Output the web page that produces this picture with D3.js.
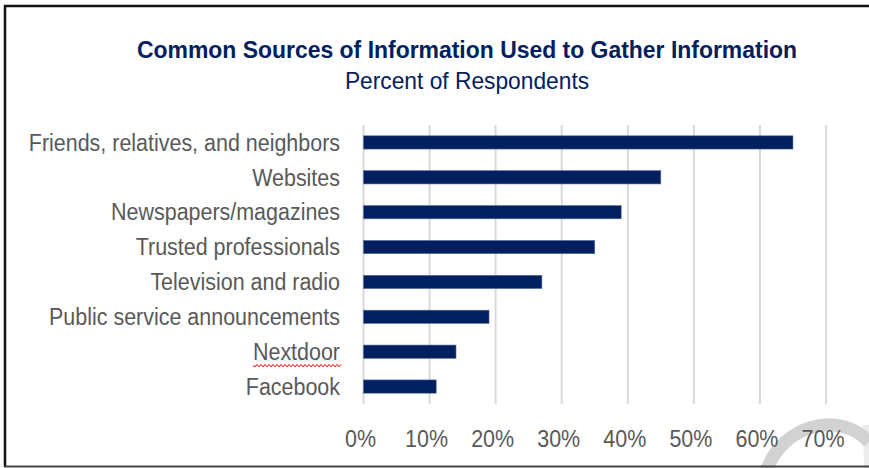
<!DOCTYPE html>
<html lang="en">
<head>
<meta charset="utf-8">
<title>Common Sources of Information</title>
<script src="https://cdn.jsdelivr.net/npm/d3@7"></script>
<style>
  body { margin: 0; background: #fff; }
  svg { display: block; }
  text { font-family: "Liberation Sans Narrow", "Arial Narrow", "Liberation Sans", sans-serif; }
  .label { fill: #595959; font-size: 23px; }
  .grid line { stroke: #d9d9d9; stroke-width: 2px; }
</style>
</head>
<body>
<div id="chart"></div>
<script>
var categories = ["Friends, relatives, and neighbors", "Websites", "Newspapers/magazines",
                  "Trusted professionals", "Television and radio", "Public service announcements",
                  "Nextdoor", "Facebook"];
var values = [65, 45, 39, 35, 27, 19, 14, 11];
var ticks = [0, 10, 20, 30, 40, 50, 60, 70];

var width = 869, height = 468;
var navy = "#002060";
var cond = 0.933;   // squeeze text horizontally, no narrow font installed

var svg = d3.select("#chart").append("svg")
    .attr("width", width)
    .attr("height", height);

var x = d3.scaleLinear().domain([0, 70]).range([363.5, 826]);
var y = d3.scaleBand().domain(categories).range([125, 404])
    .paddingInner(0.62).paddingOuter(0.31);

// squeezed text helper: place at (px, py), scale x about px
function squeeze(sel, px, py, k) {
  sel.attr("transform", "translate(" + px + "," + py + ") scale(" + k + ",1)");
}

// watermark arc behind everything
svg.append("path")
    .attr("d", "M866,425 L868,472")
    .attr("fill", "none")
    .attr("stroke", "#ececec")
    .attr("stroke-width", 7);
svg.append("path")
    .attr("d", "M766,472 C782,424 840,410 869,442")
    .attr("fill", "none")
    .attr("stroke", "#d2d2d2")
    .attr("stroke-width", 13);

// gridlines
svg.append("g").attr("class", "grid")
  .selectAll("line").data(ticks)
  .enter().append("line")
    .attr("x1", function(d) { return x(d); })
    .attr("x2", function(d) { return x(d); })
    .attr("y1", 125)
    .attr("y2", 404);

// bars
svg.append("g").selectAll("rect").data(values)
  .enter().append("rect")
    .attr("x", x(0))
    .attr("y", function(d, i) { return y(categories[i]); })
    .attr("width", function(d) { return x(d) - x(0); })
    .attr("height", y.bandwidth())
    .attr("fill", navy)
    .attr("stroke", "#5a6e9c")
    .attr("stroke-width", 0.6);

// category labels
var labels = svg.append("g").selectAll("text").data(categories)
  .enter().append("text")
    .attr("class", "label")
    .attr("dy", "0.36em")
    .attr("text-anchor", "end")
    .each(function(d) { squeeze(d3.select(this), 340, y(d) + y.bandwidth() / 2, cond); })
    .text(function(d) { return d; });

// spell-check squiggle under Nextdoor
labels.filter(function(d) { return d === "Nextdoor"; }).each(function(d) {
  var b = this.getBBox();
  var x0 = 340 + b.x * cond, x1 = 340 + (b.x + b.width) * cond;
  var yy = y(d) + y.bandwidth() / 2 + b.y + b.height + 0.5;
  var p = "M" + x0 + "," + yy;
  for (var xx = x0, k = 0; xx < x1; xx += 2, k++) {
    p += " L" + (xx + 2) + "," + (yy + (k % 2 ? -1.2 : 1.2));
  }
  svg.append("path").attr("d", p).attr("fill", "none")
    .attr("stroke", "#e00000").attr("stroke-width", 1);
});

// x axis tick labels
svg.append("g").selectAll("text").data(ticks)
  .enter().append("text")
    .attr("class", "label")
    .attr("text-anchor", "middle")
    .each(function(d) { squeeze(d3.select(this), x(d) - 3, 447, cond); })
    .text(function(d) { return d + "%"; });

// titles
svg.append("text")
    .attr("text-anchor", "middle")
    .attr("fill", navy)
    .attr("font-size", 24)
    .attr("font-weight", "bold")
    .call(squeeze, 467, 58, 0.956)
    .text("Common Sources of Information Used to Gather Information");
svg.append("text")
    .attr("text-anchor", "middle")
    .attr("fill", navy)
    .attr("font-size", 23)
    .call(squeeze, 467, 89, 0.99)
    .text("Percent of Respondents");

// frame
svg.append("line").attr("x1", 4).attr("x2", width).attr("y1", 6).attr("y2", 6)
    .attr("stroke", "#111").attr("stroke-width", 2.5);
svg.append("line").attr("x1", 5).attr("x2", 5).attr("y1", 5).attr("y2", 467)
    .attr("stroke", "#111").attr("stroke-width", 2.5);
svg.append("line").attr("x1", 4).attr("x2", width).attr("y1", 466.5).attr("y2", 466.5)
    .attr("stroke", "#444").attr("stroke-width", 2);
</script>
</body>
</html>
